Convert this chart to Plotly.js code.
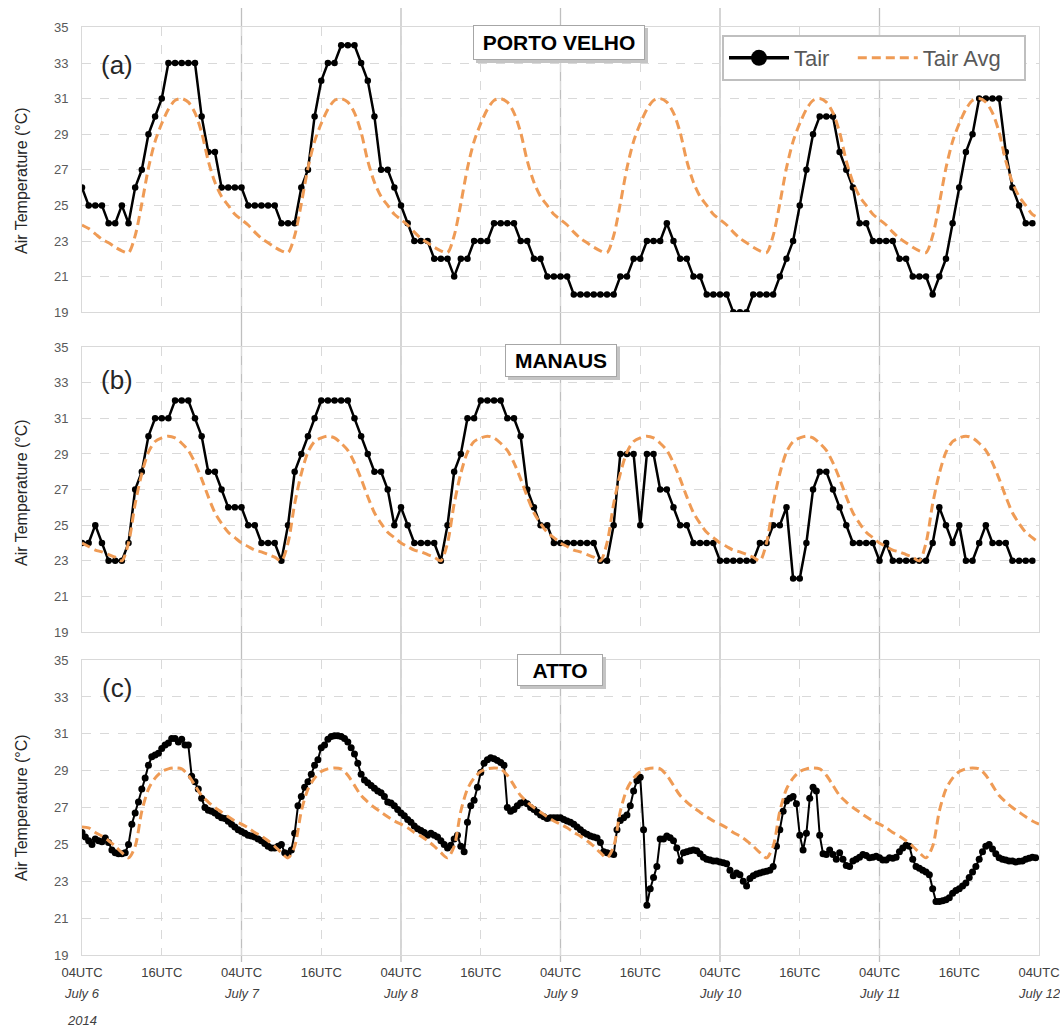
<!DOCTYPE html>
<html>
<head>
<meta charset="utf-8">
<script src="https://cdn.plot.ly/plotly-3.0.1.min.js"></script>
<style>html,body{margin:0;padding:0;background:#fff}#chart{width:1060px;height:1036px}</style>
</head>
<body>
<div id="chart"></div>
<script>
// ---------- DATA ----------
// time axis: hours since 04UTC July 6 2014
const tickHours = [0,12,24,36,48,60,72,84,96,108,120,132,144];
const tickLabels = ['04UTC','16UTC','04UTC','16UTC','04UTC','16UTC','04UTC','16UTC','04UTC','16UTC','04UTC','16UTC','04UTC'];
const dayHours = [0,24,48,72,96,120,144];
const dayLabels = ['July 6','July 7','July 8','July 9','July 10','July 11','July 12'];
const yearLabel = '2014';
const yTicks = [19,21,23,25,27,29,31,33,35];
const stations = ['PORTO VELHO','MANAUS','ATTO'];
const panelTags = ['(a)','(b)','(c)'];
const seriesNames = ['Tair','Tair Avg'];

// Porto Velho hourly Tair
const pvTair = [26,25,25,25,24,24,25,24,26,27,29,30, 31,33,33,33,33,33,30,28,28,26,26,26,
  26,25,25,25,25,25,24,24,24,26,27,30, 32,33,33,34,34,34,33,32,30,27,27,26,
  25,24,23,23,23,22,22,22,21,22,22,23, 23,23,24,24,24,24,23,23,22,22,21,21,
  21,21,20,20,20,20,20,20,20,21,21,22, 22,23,23,23,24,23,22,22,21,21,20,20,
  20,20,19,19,19,20,20,20,20,21,22,23, 25,27,29,30,30,30,28,27,26,24,24,23,
  23,23,23,22,22,21,21,21,20,21,22,24, 26,28,29,31,31,31,31,28,26,25,24,24];
// Porto Velho hourly Tair Avg
const pvAvg = [23.9,23.7,23.4,23.1,22.9,22.65,22.45,22.35,23.3,25.1,27.1,28.6,29.6,30.4,30.9,31.0,30.8,30.2,29.1,27.5,26.3,25.5,25.0,24.5,
  24.2,23.9,23.5,23.15,22.9,22.65,22.45,22.35,23.3,25.1,27.1,28.6,29.6,30.4,30.9,31.0,30.8,30.2,29.1,27.5,26.3,25.5,25.0,24.5,
  24.2,23.9,23.5,23.15,22.9,22.65,22.45,22.35,23.3,25.1,27.1,28.6,29.6,30.4,30.9,31.0,30.8,30.2,29.1,27.5,26.3,25.5,25.0,24.5,
  24.2,23.9,23.5,23.15,22.9,22.65,22.45,22.35,23.3,25.1,27.1,28.6,29.6,30.4,30.9,31.0,30.8,30.2,29.1,27.5,26.3,25.5,25.0,24.5,
  24.2,23.9,23.5,23.15,22.9,22.65,22.45,22.35,23.3,25.1,27.1,28.6,29.6,30.4,30.9,31.0,30.8,30.2,29.1,27.5,26.3,25.5,25.0,24.5,
  24.2,23.9,23.5,23.15,22.9,22.65,22.45,22.35,23.3,25.1,27.1,28.6,29.6,30.4,30.9,31.0,30.8,30.2,29.1,27.5,26.3,25.5,25.0,24.5,
  24.3];

// Manaus hourly Tair
const manTair = [24,24,25,24,23,23,23,24,27,28,30,31, 31,31,32,32,32,31,30,28,28,27,26,26,
  26,25,25,24,24,24,23,25,28,29,30,31, 32,32,32,32,32,31,30,29,28,28,27,25,
  26,25,24,24,24,24,23,25,28,29,31,31, 32,32,32,32,31,31,30,27,26,25,25,24,
  24,24,24,24,24,24,23,23,25,29,29,29, 25,29,29,27,27,26,25,25,24,24,24,24,
  23,23,23,23,23,23,24,24,25,25,26,22, 22,24,27,28,28,27,26,25,24,24,24,24,
  23,24,23,23,23,23,23,23,24,26,25,24, 25,23,23,24,25,24,24,24,23,23,23,23];
// Manaus hourly Tair Avg
const manAvg = [24.0,23.8,23.6,23.5,23.35,23.2,23.0,24.0,26.2,27.9,29.1,29.7,29.9,30.0,29.9,29.6,29.2,28.5,27.6,26.6,25.7,25.1,24.6,24.3,
  24.0,23.8,23.6,23.5,23.35,23.2,23.0,24.0,26.2,27.9,29.1,29.7,29.9,30.0,29.9,29.6,29.2,28.5,27.6,26.6,25.7,25.1,24.6,24.3,
  24.0,23.8,23.6,23.5,23.35,23.2,23.0,24.0,26.2,27.9,29.1,29.7,29.9,30.0,29.9,29.6,29.2,28.5,27.6,26.6,25.7,25.1,24.6,24.3,
  24.0,23.8,23.6,23.5,23.35,23.2,23.0,24.0,26.2,27.9,29.1,29.7,29.9,30.0,29.9,29.6,29.2,28.5,27.6,26.6,25.7,25.1,24.6,24.3,
  24.0,23.8,23.6,23.5,23.35,23.2,23.0,24.0,26.2,27.9,29.1,29.7,29.9,30.0,29.9,29.6,29.2,28.5,27.6,26.6,25.7,25.1,24.6,24.3,
  24.0,23.8,23.6,23.5,23.35,23.2,23.0,24.0,26.2,27.9,29.1,29.7,29.9,30.0,29.9,29.6,29.2,28.5,27.6,26.6,25.7,25.1,24.6,24.3,
  24.0];

// ATTO half-hourly Tair
const attoTair = [
  25.65,25.4,25.2,25.0,25.3,25.2,25.15,25.35,25.1,24.7,24.55,24.5,
  24.5,24.55,25.0,26.1,26.7,27.3,28.0,28.6,29.3,29.75,29.85,29.95,
  30.2,30.4,30.5,30.75,30.75,30.55,30.7,30.4,30.4,28.7,28.4,28.0,
  27.5,27.0,26.85,26.8,26.7,26.55,26.45,26.4,26.25,26.1,25.95,25.8,
  25.7,25.6,25.5,25.45,25.4,25.3,25.2,25.05,24.9,24.8,24.8,24.9,
  25.0,24.55,24.5,24.7,25.6,27.1,27.6,28.1,28.4,28.8,29.3,29.6,
  30.25,30.4,30.7,30.85,30.9,30.9,30.85,30.75,30.55,30.25,29.9,29.4,
  28.8,28.5,28.35,28.2,28.05,27.9,27.8,27.6,27.3,27.25,27.1,26.9,
  26.7,26.55,26.35,26.2,26.0,25.85,25.75,25.65,25.5,25.6,25.5,25.4,
  25.2,25.0,24.8,24.95,25.3,25.5,24.9,24.6,26.2,27.1,27.4,28.1,
  28.9,29.4,29.6,29.7,29.65,29.55,29.45,29.3,27.0,26.8,26.9,27.1,
  27.25,27.3,27.2,27.0,26.9,26.75,26.6,26.5,26.4,26.45,26.45,26.45,
  26.45,26.35,26.27,26.2,26.1,25.95,25.8,25.65,25.55,25.45,25.4,25.35,
  25.1,24.6,24.55,24.5,24.45,25.8,26.3,26.45,26.6,27.1,27.9,28.45,
  28.65,25.8,21.7,22.6,23.2,23.8,25.3,25.3,25.45,25.36,25.2,24.8,
  24.1,24.55,24.6,24.65,24.7,24.65,24.5,24.3,24.2,24.15,24.1,24.1,
  24.05,24.0,23.95,23.6,23.3,23.45,23.36,23.0,22.75,23.15,23.3,23.4,
  23.45,23.5,23.55,23.6,23.8,24.9,25.8,26.8,27.35,27.5,27.6,27.2,
  25.5,24.7,25.6,27.5,28.1,27.9,25.5,24.5,24.45,24.7,24.45,24.2,
  24.55,24.2,23.85,23.8,24.1,24.2,24.3,24.45,24.4,24.27,24.3,24.36,
  24.27,24.15,24.15,24.27,24.25,24.3,24.6,24.8,24.95,24.9,24.2,23.8,
  23.7,23.6,23.5,23.36,22.6,21.9,21.9,21.95,22.0,22.1,22.35,22.5,
  22.6,22.75,22.9,23.2,23.5,23.8,24.2,24.6,24.9,25.0,24.75,24.5,
  24.27,24.2,24.15,24.1,24.1,24.05,24.08,24.1,24.2,24.25,24.3,24.27];
// ATTO hourly Tair Avg
const attoAvg = [25.95,25.9,25.65,25.45,25.2,24.9,24.55,24.27,24.9,26.8,28.0,28.6,28.95,29.1,29.15,29.1,28.75,28.2,27.65,27.3,27.0,26.75,26.5,26.27,
  26.1,25.9,25.65,25.45,25.2,24.9,24.55,24.27,24.9,26.8,28.0,28.6,28.95,29.1,29.15,29.1,28.75,28.2,27.65,27.3,27.0,26.75,26.5,26.27,
  26.1,25.9,25.65,25.45,25.2,24.9,24.55,24.27,24.9,26.8,28.0,28.6,28.95,29.1,29.15,29.1,28.75,28.2,27.65,27.3,27.0,26.75,26.5,26.27,
  26.1,25.9,25.65,25.45,25.2,24.9,24.55,24.27,24.9,26.8,28.0,28.6,28.95,29.1,29.15,29.1,28.75,28.2,27.65,27.3,27.0,26.75,26.5,26.27,
  26.1,25.9,25.65,25.45,25.2,24.9,24.55,24.27,24.9,26.8,28.0,28.6,28.95,29.1,29.15,29.1,28.75,28.2,27.65,27.3,27.0,26.75,26.5,26.27,
  26.1,25.9,25.65,25.45,25.2,24.9,24.55,24.27,24.9,26.8,28.0,28.6,28.95,29.1,29.15,29.1,28.75,28.2,27.65,27.3,27.0,26.75,26.5,26.27,
  26.1];

// time index arrays
const hoursHourlyTair = pvTair.map((_, i) => i);
const hoursAvg = pvAvg.map((_, i) => i);
const hoursHalf = attoTair.map((_, i) => i / 2);

// ---------- STYLE / LAYOUT ----------
const W = 1060, H = 1036;
const px = v => v / W, py = v => 1 - v / H;
const FONT = 'Liberation Sans, Arial, sans-serif';
const BLACK = '#000000';
const ORANGE = '#EF9B55';
const GRID = '#D9D9D9';
const NB = '\u00A0\u00A0\u00A0'; // legend spacing

const panels = [
  {top: 27.4, bottom: 312.2, tair: pvTair, tx: hoursHourlyTair, avg: pvAvg, msize: 6.5, lw: 2.5, titleY: 181, tagY: 65,
   box: {x0: 473, x1: 645, y0: 25, y1: 60}},
  {top: 347.1, bottom: 632, tair: manTair, tx: hoursHourlyTair, avg: manAvg, msize: 6.5, lw: 2.5, titleY: 493, tagY: 380,
   box: {x0: 505, x1: 617, y0: 344, y1: 377}},
  {top: 660.1, bottom: 955, tair: attoTair, tx: hoursHalf, avg: attoAvg, msize: 7, lw: 2, titleY: 808, tagY: 688,
   box: {x0: 517, x1: 603, y0: 654, y1: 686}}
];

const traces = [];
// legend entry for Tair (large symbol as in the legend)
traces.push({x: [null], y: [null], name: seriesNames[0] + NB, mode: 'lines+markers', xaxis: 'x', yaxis: 'y',
  line: {color: BLACK, width: 3.5}, marker: {color: BLACK, size: 16}, showlegend: true, hoverinfo: 'skip'});

const layout = {
  width: W, height: H,
  margin: {l: 0, r: 0, t: 0, b: 0},
  paper_bgcolor: '#ffffff', plot_bgcolor: '#ffffff',
  font: {family: FONT, color: '#404040'},
  showlegend: true,
  legend: {orientation: 'h', x: px(722), xanchor: 'left', y: py(35), yanchor: 'top',
    bgcolor: '#ffffff', bordercolor: '#BFBFBF', borderwidth: 2,
    font: {family: FONT, size: 22, color: '#595959'}, traceorder: 'normal', itemwidth: 60},
  shapes: [], annotations: []
};

panels.forEach((p, k) => {
  const n = k === 0 ? '' : String(k + 1);
  const xa = 'x' + n, ya = 'y' + n;
  traces.push({x: p.tx, y: p.tair, name: seriesNames[0], mode: 'lines+markers', xaxis: xa, yaxis: ya,
    line: {color: BLACK, width: p.lw}, marker: {color: BLACK, size: p.msize}, showlegend: false});
  traces.push({x: hoursAvg, y: p.avg, name: k === 0 ? seriesNames[1] + NB : seriesNames[1], mode: 'lines', xaxis: xa, yaxis: ya,
    line: {color: ORANGE, width: 3, dash: '9px,5px', shape: 'spline', smoothing: 0.8}, showlegend: k === 0});

  layout['xaxis' + n] = {
    domain: [px(82), px(1039)], range: [0, 144], anchor: ya,
    tickvals: tickHours, ticktext: tickLabels, showticklabels: k === 2,
    tickfont: {family: FONT, size: 13, color: '#404040'}, ticks: '', ticklabelstandoff: 5,
    showgrid: true, gridcolor: GRID, griddash: 'dash', gridwidth: 1,
    showline: true, mirror: true, linecolor: GRID, linewidth: 1, zeroline: false, fixedrange: true
  };
  layout['yaxis' + n] = {
    domain: [py(p.bottom), py(p.top)], range: [19, 35], anchor: xa,
    tickvals: yTicks, tickfont: {family: FONT, size: 13, color: '#595959'}, ticks: '', ticklabelstandoff: 10,
    showgrid: true, gridcolor: GRID, griddash: 'dash', gridwidth: 1,
    showline: true, mirror: true, linecolor: GRID, linewidth: 1, zeroline: false, fixedrange: true
  };

  // y axis title
  layout.annotations.push({text: 'Air Temperature (°C)', xref: 'paper', yref: 'paper', x: px(21), y: py(p.titleY),
    textangle: -90, showarrow: false, xanchor: 'center', yanchor: 'middle',
    font: {family: FONT, size: 16, color: '#262626'}});
  // panel tag
  layout.annotations.push({text: panelTags[k], xref: 'paper', yref: 'paper', x: px(117), y: py(p.tagY),
    showarrow: false, xanchor: 'center', yanchor: 'middle', font: {family: FONT, size: 26, color: '#262626'}});
  // station title box + shadow
  const b = p.box;
  layout.shapes.push({type: 'rect', xref: 'paper', yref: 'paper', layer: 'above',
    x0: px(b.x0 + 3), x1: px(b.x1 + 3), y0: py(b.y1 + 3), y1: py(b.y0 + 3),
    fillcolor: '#C4C4C4', line: {width: 0}});
  layout.annotations.push({text: '<b>' + stations[k] + '</b>', xref: 'paper', yref: 'paper',
    x: px((b.x0 + b.x1) / 2), y: py((b.y0 + b.y1) / 2), xanchor: 'center', yanchor: 'middle', showarrow: false,
    width: b.x1 - b.x0 - 2, height: b.y1 - b.y0 - 2, borderpad: 0, borderwidth: 1, bordercolor: '#A6A6A6',
    bgcolor: '#ffffff', font: {family: FONT, size: 21, color: '#000000'}});
});

// solid day separators at 04UTC
dayHours.slice(1, -1).forEach(h => {
  layout.shapes.push({type: 'line', xref: 'x3', yref: 'paper', x0: h, x1: h, y0: py(962), y1: py(8),
    layer: 'below', line: {color: '#BFBFBF', width: 1.3}});
});

// date labels under the bottom axis
dayHours.forEach((h, i) => {
  layout.annotations.push({text: '<i>' + dayLabels[i] + '</i>', xref: 'x3', yref: 'paper', x: h, y: py(993),
    showarrow: false, xanchor: 'center', yanchor: 'middle', font: {family: FONT, size: 13, color: '#404040'}});
});
layout.annotations.push({text: '<i>' + yearLabel + '</i>', xref: 'x3', yref: 'paper', x: dayHours[0], y: py(1020),
  showarrow: false, xanchor: 'center', yanchor: 'middle', font: {family: FONT, size: 13, color: '#404040'}});

Plotly.newPlot('chart', traces, layout, {displayModeBar: false, staticPlot: true});
</script>
</body>
</html>
